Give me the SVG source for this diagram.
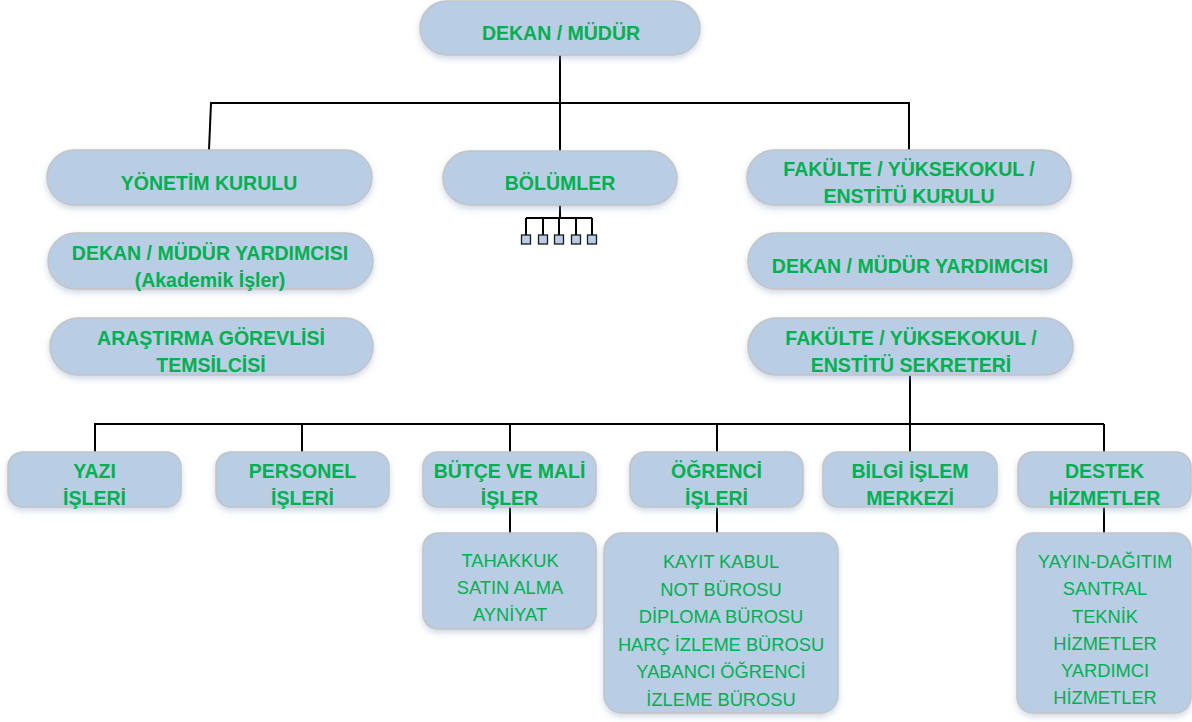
<svg xmlns="http://www.w3.org/2000/svg" width="1192" height="722" viewBox="0 0 1192 722">
<defs>
<filter id="sh" x="-10%" y="-20%" width="120%" height="160%">
<feDropShadow dx="0" dy="3" stdDeviation="3" flood-color="#8fa8c8" flood-opacity="0.45"/>
</filter>
<style>
.box{fill:#B9CDE5;stroke:#C4C4C4;stroke-width:1.5;filter:url(#sh);}
.b{font-family:"Liberation Sans",Arial,sans-serif;font-weight:bold;font-size:19.5px;fill:#00B050;text-anchor:middle;}
.r{font-family:"Liberation Sans",Arial,sans-serif;font-size:18.3px;fill:#00B050;text-anchor:middle;}
.c{stroke:#000;stroke-width:2;fill:none;}
.sq{fill:#B9CDE5;stroke:#1a1a1a;stroke-width:1.3;}
</style>
</defs>
<rect width="1192" height="722" fill="#fff"/>

<g id="connectors">
<path class="c" d="M560,55 V151"/>
<path class="c" d="M210,103 H910"/>
<path class="c" d="M211,103 L209,150"/>
<path class="c" d="M909,103 V150"/>
<path class="c" d="M560,205 V218 M526,218 H592 M526,218 V235 M543,218 V235 M559,218 V235 M576,218 V235 M592,218 V235"/>
<path class="c" d="M910,375 V452"/>
<path class="c" d="M94,424 H1104"/>
<path class="c" d="M95,424 V452 M302,424 V452 M510,424 V452 M717,424 V452 M1104,424 V452"/>
<path class="c" d="M510,507 V533 M717,507 V533 M1104,507 V533"/>
</g>

<g id="bolumler-units">
<rect class="sq" x="521.5" y="235" width="9" height="9"/>
<rect class="sq" x="538.5" y="235" width="9" height="9"/>
<rect class="sq" x="554.5" y="235" width="9" height="9"/>
<rect class="sq" x="571.5" y="235" width="9" height="9"/>
<rect class="sq" x="587.5" y="235" width="9" height="9"/>
</g>

<g id="dekan">
<rect class="box" x="420" y="1" width="280" height="54" rx="27"/>
<text class="b" x="561" y="40">DEKAN / MÜDÜR</text>
</g>

<g id="yonetim-kurulu">
<rect class="box" x="47" y="150" width="325" height="55" rx="27.5"/>
<text class="b" x="209" y="190">YÖNETİM KURULU</text>
</g>

<g id="bolumler">
<rect class="box" x="443" y="151" width="234" height="54" rx="27"/>
<text class="b" x="560" y="190">BÖLÜMLER</text>
</g>

<g id="fakulte-kurulu">
<rect class="box" x="747" y="150" width="324" height="55" rx="27.5"/>
<text class="b" x="909" y="176">FAKÜLTE / YÜKSEKOKUL /</text>
<text class="b" x="909" y="203">ENSTİTÜ KURULU</text>
</g>

<g id="dekan-yardimcisi-akademik">
<rect class="box" x="48" y="233" width="325" height="56" rx="28"/>
<text class="b" x="210" y="260">DEKAN / MÜDÜR YARDIMCISI</text>
<text class="b" x="210" y="287">(Akademik İşler)</text>
</g>

<g id="dekan-yardimcisi">
<rect class="box" x="748" y="233" width="324" height="56" rx="28"/>
<text class="b" x="910" y="273">DEKAN / MÜDÜR YARDIMCISI</text>
</g>

<g id="arastirma-gorevlisi">
<rect class="box" x="50" y="318" width="323" height="57" rx="28.5"/>
<text class="b" x="211" y="345">ARAŞTIRMA GÖREVLİSİ</text>
<text class="b" x="211" y="372">TEMSİLCİSİ</text>
</g>

<g id="sekreter">
<rect class="box" x="748" y="318" width="325" height="57" rx="28.5"/>
<text class="b" x="911" y="345">FAKÜLTE / YÜKSEKOKUL /</text>
<text class="b" x="911" y="372">ENSTİTÜ SEKRETERİ</text>
</g>

<g id="yazi-isleri">
<rect class="box" x="8" y="452" width="173" height="55" rx="15"/>
<text class="b" x="94.5" y="478">YAZI</text>
<text class="b" x="94.5" y="505">İŞLERİ</text>
</g>

<g id="personel-isleri">
<rect class="box" x="216" y="452" width="173" height="55" rx="15"/>
<text class="b" x="302.5" y="478">PERSONEL</text>
<text class="b" x="302.5" y="505">İŞLERİ</text>
</g>

<g id="butce-mali-isler">
<rect class="box" x="423" y="452" width="173" height="55" rx="15"/>
<text class="b" x="509.5" y="478">BÜTÇE VE MALİ</text>
<text class="b" x="509.5" y="505">İŞLER</text>
</g>

<g id="ogrenci-isleri">
<rect class="box" x="630" y="452" width="173" height="55" rx="15"/>
<text class="b" x="716.5" y="478">ÖĞRENCİ</text>
<text class="b" x="716.5" y="505">İŞLERİ</text>
</g>

<g id="bilgi-islem">
<rect class="box" x="823" y="452" width="174" height="55" rx="15"/>
<text class="b" x="910" y="478">BİLGİ İŞLEM</text>
<text class="b" x="910" y="505">MERKEZİ</text>
</g>

<g id="destek-hizmetler">
<rect class="box" x="1018" y="452" width="173" height="55" rx="15"/>
<text class="b" x="1104.5" y="478">DESTEK</text>
<text class="b" x="1104.5" y="505">HİZMETLER</text>
</g>

<g id="butce-alt">
<rect class="box" x="423" y="533" width="173" height="96" rx="15"/>
<text class="r" x="510" y="567">TAHAKKUK</text>
<text class="r" x="510" y="594">SATIN ALMA</text>
<text class="r" x="510" y="621">AYNİYAT</text>
</g>

<g id="ogrenci-alt">
<rect class="box" x="604" y="533" width="234" height="180" rx="18"/>
<text class="r" x="721" y="568">KAYIT KABUL</text>
<text class="r" x="721" y="596">NOT BÜROSU</text>
<text class="r" x="721" y="623">DİPLOMA BÜROSU</text>
<text class="r" x="721" y="651">HARÇ İZLEME BÜROSU</text>
<text class="r" x="721" y="678">YABANCI ÖĞRENCİ</text>
<text class="r" x="721" y="706">İZLEME BÜROSU</text>
</g>

<g id="destek-alt">
<rect class="box" x="1017" y="533" width="174" height="180" rx="16"/>
<text class="r" x="1105" y="568">YAYIN-DAĞITIM</text>
<text class="r" x="1105" y="595">SANTRAL</text>
<text class="r" x="1105" y="623">TEKNİK</text>
<text class="r" x="1105" y="650">HİZMETLER</text>
<text class="r" x="1105" y="677">YARDIMCI</text>
<text class="r" x="1105" y="704">HİZMETLER</text>
</g>
</svg>
